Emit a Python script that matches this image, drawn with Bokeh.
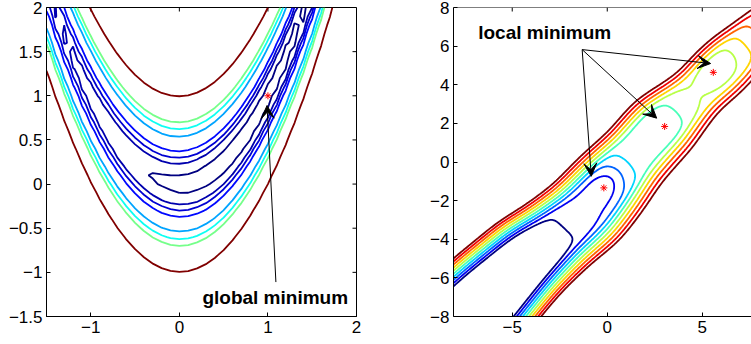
import numpy as np
from bokeh.plotting import figure
from bokeh.models import (Arrow, VeeHead, FixedTicker, CustomJSTickFormatter,
                          Range1d, ColumnDataSource, Span)
from bokeh.layouts import row
from bokeh.embed import file_html
from bokeh.resources import INLINE
from bokeh.core.properties import value

# ---------------- left panel : Rosenbrock function ----------------
ros_x_lim = (-1.5, 2.0)
ros_y_lim = (-1.5, 2.0)
ros_grid_step = 0.1
ros_levels = [2, 6.5, 10, 15, 30, 40, 50, 100]
ros_colors = ["#000080", "#0000AE", "#0000D3", "#0008FF", "#00A4FF", "#0DFFF2", "#75FF8A", "#800000"]
ros_min_x = [1.0]
ros_min_y = [1.0]
ros_xticks = [-1, 0, 1, 2]
ros_yticks = [-1.5, -1, -0.5, 0, 0.5, 1, 1.5, 2]
ros_text = ["global minimum"]
ros_text_x = [0.26]
ros_text_y = [-1.285]
ros_arrow_x0 = [1.09]
ros_arrow_y0 = [-1.11]
ros_arrow_x1 = [0.99]
ros_arrow_y1 = [0.89]

# ---------------- right panel : valley with several local minima ----------------
val_x_lim = (-8.09, 7.59)
val_y_lim = (-8.0, 8.0)
val_grid_step = 0.05
val_levels = [1, 2, 3, 4, 5, 6, 7, 8, 9, 10]
val_colors = ["#000080", "#0000F1", "#0063FF", "#00D4FF", "#47FFB8",
              "#B8FF47", "#FFD400", "#FF6300", "#F10000", "#800000"]
val_min_x = [-0.18, 3.02, 5.58]
val_min_y = [-1.34, 1.84, 4.64]
val_xticks = [-5, 0, 5]
val_yticks = [-8, -6, -4, -2, 0, 2, 4, 6, 8]
val_text = ["local minimum"]
val_text_x = [-6.79]
val_text_y = [6.69]
val_arrow_x0 = [-1.32, -1.32, -1.32]
val_arrow_y0 = [5.82, 5.82, 5.82]
val_arrow_x1 = [5.44, 2.60, -0.84]
val_arrow_y1 = [5.10, 2.27, -0.74]

# valley model: axis of the valley, floor height along it,
# centre offset and half width of the floor, wall steepness on each side, three dips
valley_slope = 1.07
valley_offset = -1.3
floor_u = [-14, -8.5, -5.3, -3.6, -2.4, -1.2, 0.2, 2.1, 4.4, 6.9, 8.3, 9.6, 11.5, 14]
floor_f = [-8.0, -4.4, -1.5, 0.7, 1.5, 2.1, 3.0, 4.6, 4.45, 6.5, 6.3, 6.5, 8.3, 11.0]
center_u = [-14, -8.5, -5.3, -3.0, -1.7, 0.0, 4.0, 6.6, 8.4, 10.0, 14]
center_v = [0.75, 0.68, 0.55, 0.2, 0.0, 0.05, 0.15, -0.07, -0.2, -0.3, -0.3]
width_u = [-14, 0.0, 4.4, 6.6, 8.4, 10.0, 14]
width_v = [1.0, 1.0, 0.92, 0.78, 0.85, 0.82, 0.8]
slope_up_u = [-14, -5, 0, 4, 8, 14]
slope_up_k = [8.5, 8.0, 6.5, 6.0, 5.5, 5.5]
slope_lo_u = [-14, -6, -2, 2, 6, 14]
slope_lo_k = [8.0, 8.0, 6.0, 5.0, 5.0, 5.0]
well_u = [-0.05, 4.4, 8.4]
well_v = [0.15, 0.1, 0.0]
well_depth = [1.5, 0.35, 1.1]
well_su = [1.2, 1.2, 1.5]
well_sv = [0.8, 0.9, 1.0]
wall_soft = 0.12

FONT = "Liberation Sans"
TICK_PX = 4
LINE_W = 1.8


def smooth_profile(cu, cv, uu, sigma=0.5):
    fine = np.linspace(-20, 20, 4001)
    lin = np.interp(fine, cu, cv)
    s = sigma / (fine[1] - fine[0])
    k = np.arange(-int(4 * s), int(4 * s) + 1)
    ker = np.exp(-0.5 * (k / s) ** 2)
    ker /= ker.sum()
    sm = np.convolve(np.pad(lin, len(k) // 2, mode="edge"), ker, mode="valid")
    return np.interp(uu, fine, sm)


def rosen_surface():
    xs = np.arange(ros_x_lim[0], ros_x_lim[1] + 1e-9, ros_grid_step)
    ys = np.arange(ros_y_lim[0], ros_y_lim[1] + 1e-9, ros_grid_step)
    X, Y = np.meshgrid(xs, ys)
    Z = (1 - X) ** 2 + 100 * (Y - X ** 2) ** 2
    return xs, ys, Z


def valley_surface():
    xs = np.arange(-8.2, 8.2 + 1e-9, val_grid_step)
    ys = np.arange(-8.2, 8.2 + 1e-9, val_grid_step)
    X, Y = np.meshgrid(xs, ys)
    n = np.hypot(1.0, valley_slope)
    U = (X + valley_slope * (Y - valley_offset)) / n
    V = (-valley_slope * X + (Y - valley_offset)) / n
    fl = smooth_profile(floor_u, floor_f, U)
    cen = smooth_profile(center_u, center_v, U, sigma=0.6)
    hw = smooth_profile(width_u, width_v, U, sigma=0.8)
    k_up = smooth_profile(slope_up_u, slope_up_k, U, sigma=1.0)
    k_lo = smooth_profile(slope_lo_u, slope_lo_k, U, sigma=1.0)
    K = np.where(V > cen, k_up, k_lo)
    D = np.sqrt((V - cen) ** 2 + 0.01)
    wall = K * wall_soft * np.logaddexp(0.0, (D - hw) / wall_soft)
    wells = np.zeros_like(X)
    for wu, wv, wd, su, sv in zip(well_u, well_v, well_depth, well_su, well_sv):
        wells += wd * np.exp(-((U - wu) / su) ** 2 - ((V - wv) / sv) ** 2)
    return xs, ys, fl + wall - wells


minus_fmt = "return (tick < 0 ? '\u2212' : '') + Math.abs(tick).toString();"


def style_axis(ax, ticks):
    ax.ticker = FixedTicker(ticks=ticks)
    ax.formatter = CustomJSTickFormatter(code=minus_fmt)
    ax.major_tick_in = TICK_PX
    ax.major_tick_out = 0
    ax.minor_tick_in = 0
    ax.minor_tick_out = 0
    ax.axis_line_color = "black"
    ax.axis_line_width = 1
    ax.major_tick_line_color = "black"
    ax.major_label_text_font = FONT
    ax.major_label_text_font_size = "17px"
    ax.major_label_text_color = "black"
    ax.major_label_standoff = 4


FRAME_H = 309


def make_fig(xlim, ylim, xt, yt, width, bl, br, frame_w, boxed):
    p = figure(width=width, height=7 + FRAME_H + 28, x_range=Range1d(*xlim), y_range=Range1d(*ylim),
               output_backend="svg", toolbar_location=None,
               min_border_left=bl, min_border_right=br, min_border_top=7, min_border_bottom=28)
    p.xgrid.visible = False
    p.ygrid.visible = False
    p.outline_line_color = "black" if boxed else None
    p.background_fill_color = "white"
    p.border_fill_color = "white"
    style_axis(p.xaxis[0], xt)
    style_axis(p.yaxis[0], yt)
    # mirrored inward ticks on the top (and right) edge, as in the original box
    dy = (ylim[1] - ylim[0]) / FRAME_H * TICK_PX
    p.segment(x0=xt, y0=[ylim[1]] * len(xt), x1=xt, y1=[ylim[1] - dy] * len(xt),
              line_color="black", line_width=1)
    if boxed:
        dx = (xlim[1] - xlim[0]) / frame_w * TICK_PX
        p.segment(x0=[xlim[1]] * len(yt), y0=yt, x1=[xlim[1] - dx] * len(yt), y1=yt,
                  line_color="black", line_width=1)
    else:
        p.add_layout(Span(location=ylim[1], dimension="width", line_color="black", line_width=1))
    return p


def annotate(p, tx, ty, txt, x0, y0, x1, y1):
    p.text(x=tx, y=ty, text=txt, text_font=value(FONT), text_font_style="bold",
           text_font_size="19px", text_baseline="middle", text_align="left", text_color="black")
    src = ColumnDataSource(dict(x0=x0, y0=y0, x1=x1, y1=y1))
    p.add_layout(Arrow(source=src, x_start="x0", y_start="y0", x_end="x1", y_end="y1",
                       line_color="black", line_width=1,
                       end=VeeHead(size=13, fill_color="black", line_color="black", line_width=1)))


# ----- left figure -----
p1 = make_fig(ros_x_lim, ros_y_lim, ros_xticks, ros_yticks, 400, 46, 44, 310, True)
rx, ry, rz = rosen_surface()
p1.contour(x=rx, y=ry, z=rz, levels=ros_levels, line_color=ros_colors, line_width=LINE_W)
p1.scatter(x=ros_min_x, y=ros_min_y, marker="asterisk", size=7, line_color="red", line_width=1)
annotate(p1, ros_text_x, ros_text_y, ros_text, ros_arrow_x0, ros_arrow_y0, ros_arrow_x1, ros_arrow_y1)

# ----- right figure -----
p2 = make_fig(val_x_lim, val_y_lim, val_xticks, val_yticks, 351, 53, 0, 298, False)
vx, vy, vz = valley_surface()
p2.contour(x=vx, y=vy, z=vz, levels=val_levels, line_color=val_colors, line_width=LINE_W)
p2.scatter(x=val_min_x, y=val_min_y, marker="asterisk", size=7, line_color="red", line_width=1)
annotate(p2, val_text_x, val_text_y, val_text, val_arrow_x0, val_arrow_y0, val_arrow_x1, val_arrow_y1)

layout = row(p1, p2)
open("out.html", "w").write(file_html(layout, INLINE))
